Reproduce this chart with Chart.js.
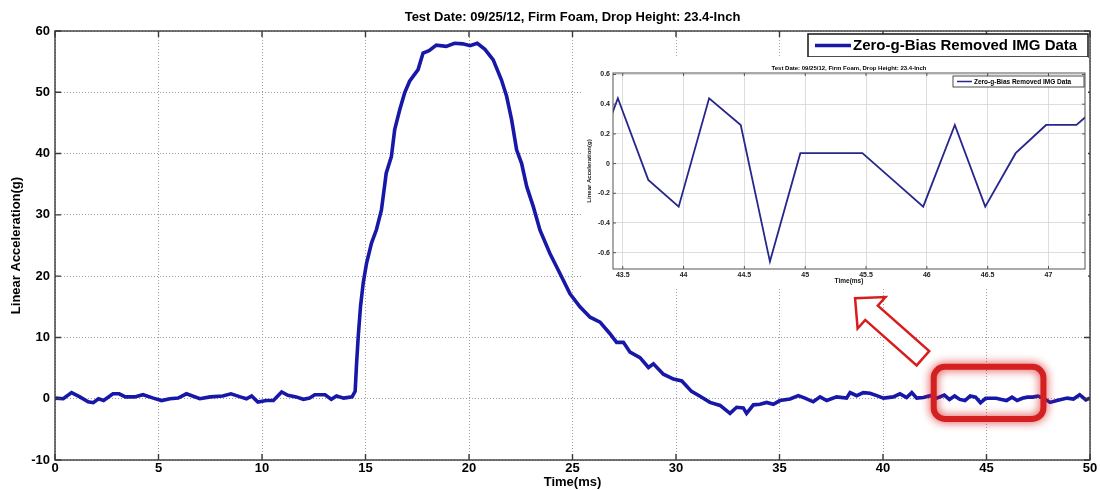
<!DOCTYPE html>
<html>
<head>
<meta charset="utf-8">
<script src="https://cdn.jsdelivr.net/npm/chart.js@4.4.1/dist/chart.umd.min.js"></script>
<style>
html, body { margin: 0; padding: 0; background: #fff; }
#wrap { position: relative; width: 1100px; height: 490px; overflow: hidden; }
#main { position: absolute; left: 0; top: 0; }
#inset { position: absolute; left: 583px; top: 57px; background: #fff; }
</style>
</head>
<body>
<div id="wrap">
<canvas id="main" width="1100" height="490" style="width:1100px;height:490px"></canvas>
<canvas id="inset" width="505" height="230" style="width:505px;height:230px"></canvas>
</div>
<script>
var chartTitle = 'Test Date: 09/25/12, Firm Foam, Drop Height: 23.4-Inch';
var seriesName = 'Zero-g-Bias Removed IMG Data';

// main trace, time in ms / acceleration in g
var mainTime = [
	0.0, 0.4, 0.8, 1.2, 1.6, 1.85, 2.1, 2.35, 2.8, 3.1, 3.4, 3.85, 4.25, 4.75, 5.15, 5.55,
	5.95, 6.35, 7.0, 7.5, 8.1, 8.5, 8.95, 9.25, 9.5, 9.8, 10.2, 10.55, 10.95, 11.25, 11.65,
	12.0, 12.3, 12.55, 13.05, 13.35, 13.6, 13.95, 14.35, 14.5,
	14.57, 14.65, 14.76, 14.89, 15.05, 15.29, 15.53, 15.77, 15.94, 16.0, 16.25, 16.41, 16.65,
	16.89, 17.13, 17.54, 17.78, 18.07, 18.42, 18.9, 19.3, 19.7, 20.05, 20.4,
	20.77, 21.17, 21.57, 21.82, 22.06, 22.3, 22.54, 22.79, 23.11, 23.43, 23.91, 24.4, 24.88,
	25.36, 25.85, 26.33, 26.81, 27.13, 27.46, 27.78, 28.26, 28.67, 28.91, 29.39, 29.88, 30.28,
	30.75, 31.16, 31.64, 32.13, 32.61, 32.93, 33.25, 33.41, 33.74, 34.06, 34.38, 34.7, 35.02,
	35.51, 35.91, 36.23, 36.63, 36.96, 37.28, 37.76, 38.24, 38.41, 38.73, 39.05, 39.37, 39.7,
	40.02, 40.5, 40.82, 41.14, 41.39, 41.63, 41.95, 42.27, 42.6, 42.96, 43.21,
	43.46, 43.71, 43.96, 44.21, 44.47, 44.71, 44.96, 45.22, 45.47, 45.72, 45.97, 46.23, 46.48,
	46.73, 46.98, 47.23, 47.48, 47.75, 48.07, 48.4, 48.9, 49.2, 49.5, 49.8, 50.0
];
var mainAccel = [
	0.1, 0.0, 1.0, 0.3, -0.5, -0.65, 0.0, -0.3, 0.8, 0.8, 0.3, 0.3, 0.65, 0.1, -0.3, 0.0,
	0.1, 0.8, 0.0, 0.3, 0.45, 0.8, 0.3, 0.0, 0.45, -0.55, -0.3, -0.3, 1.1, 0.55, 0.3,
	-0.1, 0.1, 0.65, 0.65, -0.1, 0.45, 0.1, 0.3, 1.2,
	5.8, 10.2, 15.1, 18.9, 22.1, 25.4, 27.6, 30.8, 35.2, 36.8, 39.5, 43.9, 47.1,
	49.9, 51.8, 53.7, 56.4, 56.8, 57.7, 57.5, 58.0, 57.9, 57.6, 58.0,
	57.0, 55.3, 52.0, 49.3, 45.5, 40.6, 38.4, 34.6, 31.3, 27.5, 23.7, 20.4, 17.1,
	15.0, 13.3, 12.5, 10.6, 9.2, 9.2, 7.6, 6.7, 5.1, 5.7, 4.0, 3.2, 2.9,
	1.2, 0.4, -0.6, -1.1, -2.4, -1.4, -1.5, -2.4, -1.0, -0.9, -0.6, -0.9, -0.3,
	-0.05, 0.5, 0.1, -0.5, 0.3, -0.3, 0.3, 0.1, 1.0, 0.5, 1.0, 0.9, 0.5,
	0.1, 0.3, 0.8, 0.2, 1.0, 0.1, 0.2, 0.5, 0.1, 0.6, -0.11,
	0.44, -0.11, -0.29, 0.44, 0.26, -0.66, 0.07, 0.07, 0.07, -0.11, -0.29, 0.26, -0.29,
	0.07, 0.26, 0.26, 0.44, 0.1, -0.6, -0.3, 0.1, -0.05, 0.65, -0.2, 0.1
];
var mainXTicks = [0, 5, 10, 15, 20, 25, 30, 35, 40, 45, 50];
var mainYTicks = [-10, 0, 10, 20, 30, 40, 50, 60];

// zoomed inset, 43.4 - 47.3 ms
var insetTime = [43.21, 43.46, 43.71, 43.96, 44.21, 44.47, 44.71, 44.96, 45.22, 45.47, 45.72, 45.97, 46.23, 46.48, 46.73, 46.98, 47.23, 47.48];
var insetAccel = [-0.11, 0.44, -0.11, -0.29, 0.44, 0.26, -0.66, 0.07, 0.07, 0.07, -0.11, -0.29, 0.26, -0.29, 0.07, 0.26, 0.26, 0.44];
var insetXTicks = [43.5, 44, 44.5, 45, 45.5, 46, 46.5, 47];
var insetYTicks = [-0.6, -0.4, -0.2, 0, 0.2, 0.4, 0.6];

var FONT = "'Liberation Sans', Arial, sans-serif";
Chart.defaults.font.family = FONT;
Chart.defaults.color = '#000';

function toPoints(xs, ys) {
	return xs.map(function(x, i) { return {x: x, y: ys[i]}; });
}

function setTicks(values) {
	return function(scale) {
		scale.ticks = values.map(function(v) { return {value: v}; });
	};
}

function fixSize(prop, size) {
	return function(scale) { scale[prop] = size; };
}

function plainLabel(v) {
	return String(v);
}

function roundRectPath(ctx, x, y, w, h, r) {
	ctx.beginPath();
	ctx.moveTo(x + r, y);
	ctx.lineTo(x + w - r, y);
	ctx.arcTo(x + w, y, x + w, y + r, r);
	ctx.lineTo(x + w, y + h - r);
	ctx.arcTo(x + w, y + h, x + w - r, y + h, r);
	ctx.lineTo(x + r, y + h);
	ctx.arcTo(x, y + h, x, y + h - r, r);
	ctx.lineTo(x, y + r);
	ctx.arcTo(x, y, x + r, y, r);
	ctx.closePath();
}

// matlab style box with inward tick marks, title and boxed legend
var matlabFrame = {
	id: 'matlabFrame',
	afterDatasetsDraw: function(chart, args, o) {
		var ctx = chart.ctx, a = chart.chartArea;
		var xs = chart.scales.x, ys = chart.scales.y;
		ctx.save();
		ctx.strokeStyle = o.color;
		ctx.lineWidth = o.width;
		ctx.strokeRect(a.left, a.top, a.right - a.left, a.bottom - a.top);
		ctx.beginPath();
		xs.ticks.forEach(function(t) {
			var px = xs.getPixelForValue(t.value);
			ctx.moveTo(px, a.bottom); ctx.lineTo(px, a.bottom - o.tick);
			ctx.moveTo(px, a.top); ctx.lineTo(px, a.top + o.tick);
		});
		ys.ticks.forEach(function(t) {
			var py = ys.getPixelForValue(t.value);
			ctx.moveTo(a.left, py); ctx.lineTo(a.left + o.tick, py);
			ctx.moveTo(a.right, py); ctx.lineTo(a.right - o.tick, py);
		});
		ctx.stroke();
		ctx.restore();
	},
	afterDraw: function(chart, args, o) {
		var ctx = chart.ctx, a = chart.chartArea;
		var ds = chart.data.datasets[0];
		var lg = o.legend;
		ctx.save();
		ctx.fillStyle = '#000';
		ctx.font = 'bold ' + o.titleSize + 'px ' + FONT;
		ctx.textAlign = 'center';
		ctx.textBaseline = 'middle';
		ctx.fillText(o.title, (a.left + a.right) / 2, o.titleY);

		ctx.fillStyle = '#fff';
		ctx.fillRect(lg.x, lg.y, lg.w, lg.h);
		ctx.strokeStyle = '#222';
		ctx.lineWidth = lg.border;
		ctx.strokeRect(lg.x, lg.y, lg.w, lg.h);
		var my = lg.y + lg.h / 2;
		ctx.strokeStyle = ds.borderColor;
		ctx.lineWidth = lg.lineWidth;
		ctx.beginPath();
		ctx.moveTo(lg.x + lg.pad, my);
		ctx.lineTo(lg.x + lg.pad + lg.sample, my);
		ctx.stroke();
		ctx.fillStyle = '#000';
		ctx.font = 'bold ' + lg.size + 'px ' + FONT;
		ctx.textAlign = 'left';
		ctx.fillText(ds.label, lg.x + lg.pad + lg.sample + 2, my + 0.5);
		ctx.restore();
	}
};

// red rounded box round the zoomed window and the hollow arrow to the inset
var zoomCallout = {
	id: 'zoomCallout',
	afterDatasetsDraw: function(chart, args, o) {
		var ctx = chart.ctx;
		var xs = chart.scales.x, ys = chart.scales.y;
		var x0 = xs.getPixelForValue(o.box[0]), x1 = xs.getPixelForValue(o.box[1]);
		var y0 = ys.getPixelForValue(o.box[3]), y1 = ys.getPixelForValue(o.box[2]);
		ctx.save();
		ctx.shadowColor = 'rgba(215,20,20,0.9)';
		ctx.shadowBlur = 10;
		ctx.strokeStyle = '#d42020';
		ctx.lineWidth = 6;
		roundRectPath(ctx, x0, y0, x1 - x0, y1 - y0, 11);
		ctx.stroke();
		ctx.restore();

		var tx = xs.getPixelForValue(o.tip[0]), ty = ys.getPixelForValue(o.tip[1]);
		var bx = xs.getPixelForValue(o.tail[0]), by = ys.getPixelForValue(o.tail[1]);
		var len = Math.hypot(bx - tx, by - ty);
		var ux = (bx - tx) / len, uy = (by - ty) / len;
		var nx = -uy, ny = ux;
		var hx = tx + ux * o.headLen, hy = ty + uy * o.headLen;
		var pts = [
			[tx, ty],
			[hx + nx * o.headHalf, hy + ny * o.headHalf],
			[hx + nx * o.shaftHalf, hy + ny * o.shaftHalf],
			[bx + nx * o.shaftHalf, by + ny * o.shaftHalf],
			[bx - nx * o.shaftHalf, by - ny * o.shaftHalf],
			[hx - nx * o.shaftHalf, hy - ny * o.shaftHalf],
			[hx - nx * o.headHalf, hy - ny * o.headHalf]
		];
		ctx.save();
		ctx.beginPath();
		pts.forEach(function(p, i) {
			if (i === 0) ctx.moveTo(p[0], p[1]); else ctx.lineTo(p[0], p[1]);
		});
		ctx.closePath();
		ctx.fillStyle = '#fff';
		ctx.fill();
		ctx.strokeStyle = '#d91c1c';
		ctx.lineWidth = 2.5;
		ctx.stroke();
		ctx.restore();
	}
};

new Chart(document.getElementById('main').getContext('2d'), {
	type: 'line',
	data: {
		datasets: [{
			label: seriesName,
			data: toPoints(mainTime, mainAccel),
			borderColor: 'rgb(24,24,168)',
			borderWidth: 3.6,
			pointRadius: 0,
			tension: 0,
			fill: false
		}]
	},
	options: {
		responsive: false,
		animation: false,
		layout: {padding: {top: 31, right: 10, left: 0, bottom: 0}},
		plugins: {
			legend: {display: false},
			tooltip: {enabled: false},
			matlabFrame: {
				color: '#3a3a3a', width: 1.4, tick: 6,
				title: chartTitle, titleSize: 13, titleY: 17,
				legend: {x: 808, y: 34, w: 280, h: 23, border: 1.6, pad: 7, sample: 36, lineWidth: 3.5, size: 15}
			},
			zoomCallout: {
				box: [42.45, 47.75, -3.3, 5.2],
				tip: [38.65, 16.4], tail: [41.93, 6.6],
				headLen: 22, headHalf: 21, shaftHalf: 9.5
			}
		},
		scales: {
			x: {
				type: 'linear', min: 0, max: 50,
				afterBuildTicks: setTicks(mainXTicks),
				afterFit: fixSize('height', 30),
				border: {display: false, dash: [1, 2]},
				grid: {color: '#9c9c9c', lineWidth: 1, drawTicks: false},
				ticks: {padding: 1, autoSkip: false, maxRotation: 0, callback: plainLabel, font: {size: 13, weight: 'bold'}, color: '#000'},
				title: {display: true, text: 'Time(ms)', padding: {top: 0, bottom: 0}, font: {size: 13, weight: 'bold'}, color: '#000'}
			},
			y: {
				type: 'linear', min: -10, max: 60,
				afterBuildTicks: setTicks(mainYTicks),
				afterFit: fixSize('width', 55),
				border: {display: false, dash: [1, 2]},
				grid: {color: '#9c9c9c', lineWidth: 1, drawTicks: false},
				ticks: {padding: 5, callback: plainLabel, font: {size: 13, weight: 'bold'}, color: '#000'},
				title: {display: true, text: 'Linear Acceleration(g)', padding: {top: 9, bottom: 0}, font: {size: 13, weight: 'bold'}, color: '#000'}
			}
		}
	},
	plugins: [matlabFrame, zoomCallout]
});

new Chart(document.getElementById('inset').getContext('2d'), {
	type: 'line',
	data: {
		datasets: [{
			label: seriesName,
			data: toPoints(insetTime, insetAccel),
			borderColor: 'rgb(38,38,140)',
			borderWidth: 1.8,
			pointRadius: 0,
			tension: 0,
			fill: false
		}]
	},
	options: {
		responsive: false,
		animation: false,
		layout: {padding: {top: 16, right: 3, left: 0, bottom: 0}},
		plugins: {
			legend: {display: false},
			tooltip: {enabled: false},
			matlabFrame: {
				color: '#555', width: 1, tick: 3,
				title: chartTitle, titleSize: 6, titleY: 11,
				legend: {x: 370, y: 19, w: 131, h: 11, border: 0.8, pad: 4, sample: 15, lineWidth: 1.5, size: 6.5}
			}
		},
		scales: {
			x: {
				type: 'linear', min: 43.42, max: 47.3,
				afterBuildTicks: setTicks(insetXTicks),
				afterFit: fixSize('height', 18),
				border: {display: false},
				grid: {color: '#d4d4d4', lineWidth: 0.8, drawTicks: false},
				ticks: {padding: 2, autoSkip: false, maxRotation: 0, callback: plainLabel, font: {size: 7, weight: 'bold'}, color: '#222'},
				title: {display: true, text: 'Time(ms)', padding: {top: 0, bottom: 2}, font: {size: 6.5, weight: 'bold'}, color: '#111'}
			},
			y: {
				type: 'linear', min: -0.71, max: 0.61,
				afterBuildTicks: setTicks(insetYTicks),
				afterFit: fixSize('width', 30),
				border: {display: false},
				grid: {color: '#d4d4d4', lineWidth: 0.8, drawTicks: false},
				ticks: {padding: 3, callback: plainLabel, font: {size: 7, weight: 'bold'}, color: '#222'},
				title: {display: true, text: 'Linear Acceleration(g)', padding: {top: 3, bottom: 0}, font: {size: 6, weight: 'bold'}, color: '#111'}
			}
		}
	},
	plugins: [matlabFrame]
});
</script>
</body>
</html>
